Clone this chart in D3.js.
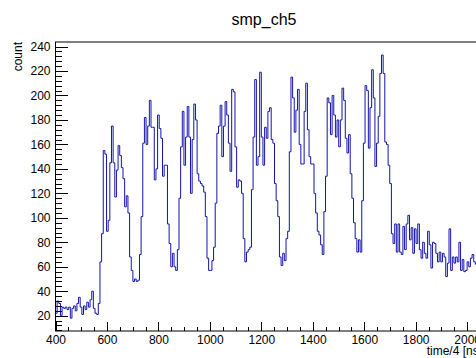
<!DOCTYPE html>
<html lang="en">
<head>
  <meta charset="UTF-8">
  <title>smp_ch5</title>
  <style>
    body { margin: 0; background: #fff; }
    svg { display: block; font-family: "Liberation Sans", Arial, sans-serif; }
    .axis path, .axis line { fill: none; stroke: #000; shape-rendering: crispEdges; }
    .axis text { font-size: 12px; fill: #000; }
  </style>
</head>
<body>
  <svg>
    <g id="hist"></g>
    <g id="xAxis" class="axis"></g>
    <g id="xMinor" class="axis"></g>
    <g id="yAxis" class="axis"></g>
    <g id="yMinor" class="axis"></g>
  </svg>
  <script src="https://cdn.jsdelivr.net/npm/d3@7/dist/d3.min.js"></script>
  <script>
    // histogram: first bin edge and bin width (time/4 units)
    var binStart = 400;
    var binWidth = 6.4;
    // counts per bin
    var counts = [
      22, 32, 30, 20, 27, 26, 27, 25, 27, 18, 26, 28, 24, 30, 35, 27, 21, 28, 25, 31, 27, 33, 40, 26, 22, 21, 30,
      64, 87, 155, 152, 89, 98, 145, 175, 145, 117, 139, 159, 151, 141, 132, 109, 118, 104, 68, 57, 48, 50, 48, 49, 70, 101,
      161, 182, 160, 175, 196, 174, 174, 131, 140, 184, 173, 165, 134, 143, 143, 95, 79, 60, 71, 60, 57, 74,
      116, 158, 187, 143, 166, 191, 166, 120, 164, 193, 180, 136, 130, 128, 126,
      121, 101, 67, 57, 57, 65, 76, 112, 169, 175, 192, 150, 175, 195, 184, 161, 138, 205, 203, 158, 125, 131,
      130, 120, 83, 64, 72, 74, 76, 123, 166, 213, 143, 150, 219, 166, 143, 174, 165, 187, 190, 164, 161, 128,
      114, 101, 68, 61, 71, 65, 83, 89, 154, 215, 198, 170, 188, 205, 160, 144, 144, 187, 210, 172,
      150, 144, 144, 120, 104, 89, 86, 78, 70, 105, 134, 198, 194, 168, 200, 184, 166, 180, 158, 180, 206, 196, 165, 153,
      168, 136, 116, 96, 83, 72, 82, 72, 114, 161, 208, 204, 157, 190, 221, 198, 142, 161, 183, 218, 233, 218, 162, 160, 143, 128,
      87, 79, 95, 72, 95, 72, 70, 93, 74, 95, 102, 82, 92, 71, 91, 79, 95, 74,
      67, 80, 71, 67, 89, 78, 59, 80, 79, 71, 64, 72, 64, 71, 68, 52, 63, 91, 57, 68, 63, 68, 64, 80, 57, 66,
      56, 57, 64, 60, 67, 70, 64, 62, 66
    ];
    // axis ranges and ticks
    var xDomain = [400, 2050];
    var yDomain = [7.5, 243.7];
    var xMajor = [400, 600, 800, 1000, 1200, 1400, 1600, 1800, 2000];
    var yMajor = [20, 40, 60, 80, 100, 120, 140, 160, 180, 200, 220, 240];
    var titleText = "smp_ch5";
    var xTitle = "time/4 [ns]";
    var yTitle = "count";

    var w = 476, h = 358;
    var frame = {left: 55.5, right: 480, top: 42, bottom: 331};
    var svg = d3.select("svg").attr("width", w).attr("height", h);

    var xScale = d3.scaleLinear().domain(xDomain).range([frame.left, frame.right]);
    var yScale = d3.scaleLinear().domain(yDomain).range([frame.bottom, frame.top]);

    // clip histogram to frame
    svg.append("defs").append("clipPath").attr("id", "clip")
      .append("rect")
      .attr("x", frame.left).attr("y", frame.top)
      .attr("width", frame.right - frame.left).attr("height", frame.bottom - frame.top);

    // step points: one per bin edge, last one repeats final count
    var pts = counts.map(function(c, i) { return [binStart + i * binWidth, c]; });
    pts.push([binStart + counts.length * binWidth, counts[counts.length - 1]]);

    var line = d3.line()
      .x(function(d) { return xScale(d[0]); })
      .y(function(d) { return yScale(d[1]); })
      .curve(d3.curveStepAfter);

    d3.select("#hist").attr("clip-path", "url(#clip)")
      .append("path")
      .attr("d", line(pts))
      .attr("fill", "none")
      .attr("stroke", "#1414aa")
      .attr("stroke-width", 1);

    // frame box
    svg.append("rect")
      .attr("x", frame.left).attr("y", frame.top)
      .attr("width", frame.right - frame.left).attr("height", frame.bottom - frame.top)
      .attr("fill", "none").attr("stroke", "#000").attr("stroke-width", 1);

    // x axis, ticks pointing inwards
    var xMinorVals = d3.range(400, 2051, 50).filter(function(v) { return xMajor.indexOf(v) < 0; });
    d3.select("#xAxis")
      .attr("transform", "translate(0," + frame.bottom + ")")
      .call(d3.axisBottom(xScale).tickValues(xMajor).tickSizeInner(-8.7).tickSizeOuter(0).tickPadding(4).tickFormat(d3.format("d")));
    d3.select("#xMinor")
      .attr("transform", "translate(0," + frame.bottom + ")")
      .call(d3.axisBottom(xScale).tickValues(xMinorVals).tickSizeInner(-4.4).tickSizeOuter(0).tickFormat(""));

    // y axis
    var yMinorVals = d3.range(8, 244, 4).filter(function(v) { return yMajor.indexOf(v) < 0; });
    d3.select("#yAxis")
      .attr("transform", "translate(" + frame.left + ",0)")
      .call(d3.axisLeft(yScale).tickValues(yMajor).tickSizeInner(-12.7).tickSizeOuter(0).tickPadding(5));
    d3.select("#yMinor")
      .attr("transform", "translate(" + frame.left + ",0)")
      .call(d3.axisLeft(yScale).tickValues(yMinorVals).tickSizeInner(-6.3).tickSizeOuter(0).tickFormat(""));
    svg.selectAll(".axis .domain").remove();

    // titles
    svg.append("text")
      .attr("x", 264).attr("y", 25)
      .attr("text-anchor", "middle")
      .style("font-size", "16px")
      .text(titleText);

    svg.append("text")
      .attr("x", frame.right + 2).attr("y", 355)
      .attr("text-anchor", "end")
      .style("font-size", "12px")
      .text(xTitle);

    svg.append("text")
      .attr("transform", "translate(22," + frame.top + ") rotate(-90)")
      .attr("text-anchor", "end")
      .style("font-size", "12px")
      .text(yTitle);
  </script>
</body>
</html>
